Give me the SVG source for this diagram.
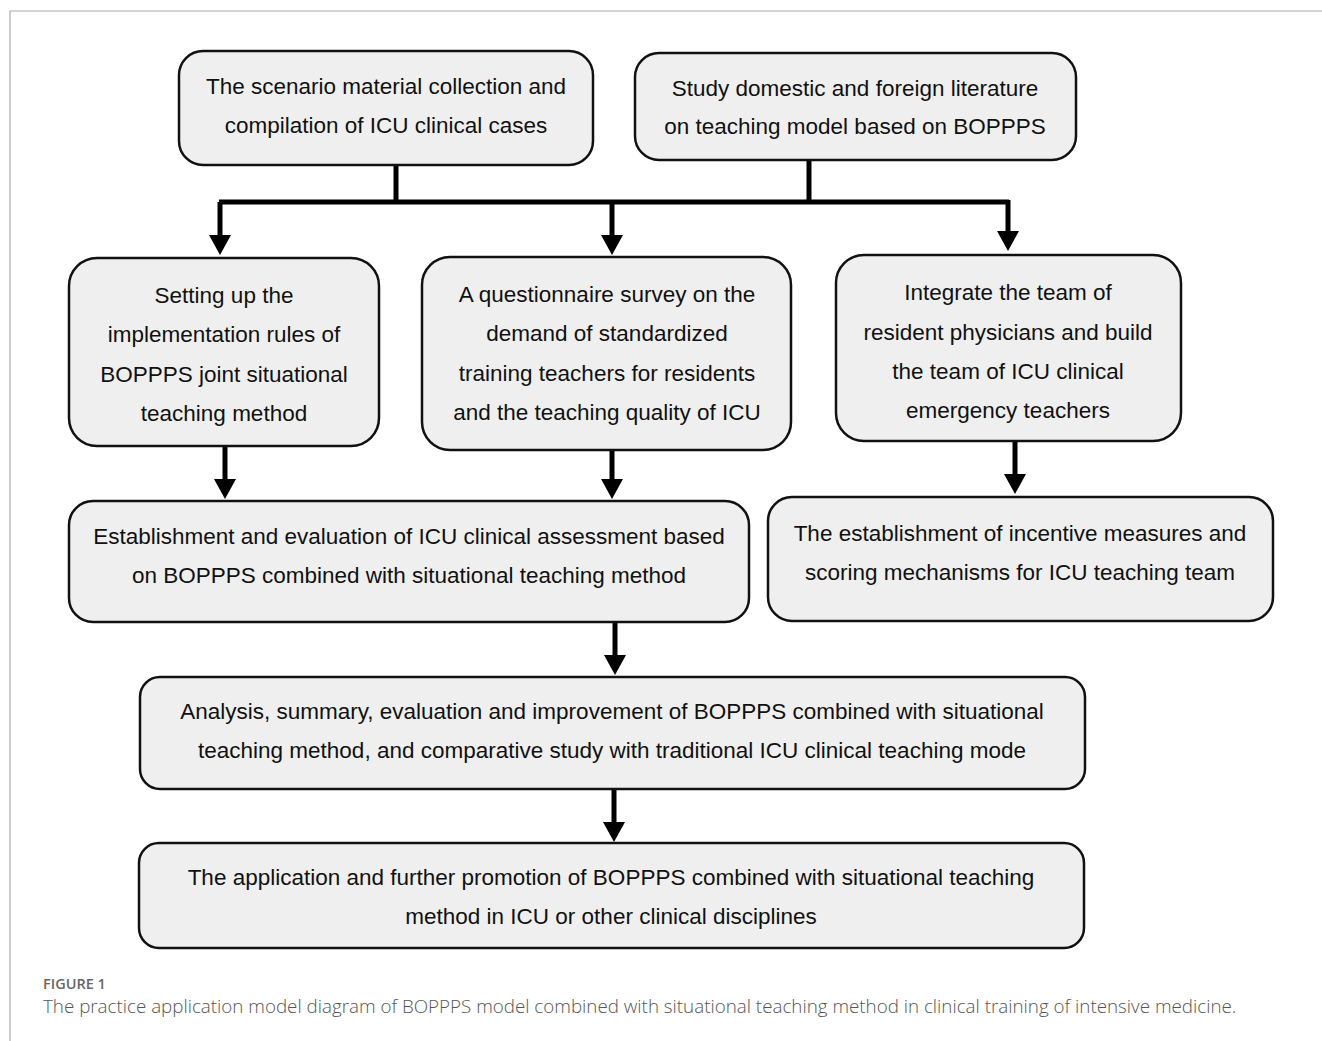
<svg xmlns="http://www.w3.org/2000/svg" width="1322" height="1041" viewBox="0 0 1322 1041">
<defs>
<style>
.box{fill:#efefef;stroke:#111;stroke-width:2.5}
.t{font-family:"Liberation Sans",Arial,sans-serif;font-size:22.5px;fill:#111;text-anchor:middle}
.c{stroke:#000;stroke-width:5;fill:none}
.frame{stroke:#aaa;stroke-width:1.2;fill:none}
.fig{font-family:"Open Sans",sans-serif;font-size:14.5px;fill:#666;font-weight:600}
.cap{font-family:"Open Sans",sans-serif;font-size:18.8px;fill:#555;font-weight:300}
</style>
</defs>
<rect width="1322" height="1041" fill="#fff"/>
<path class="frame" d="M10,1041 V11 H1322"/>
<g id="connectors">
<path class="c" d="M396,165 V202 M809,160 V202 M219,202 H1009"/>
<path d="M220,202 V236" class="c"/><path d="M209,235 L231,235 L220,255 Z"/>
<path d="M612,202 V236" class="c"/><path d="M601,235 L623,235 L612,255 Z"/>
<path d="M1008,200 V232" class="c"/><path d="M997,231 L1019,231 L1008,251 Z"/>
<path d="M225,446 V480" class="c"/><path d="M214,479 L236,479 L225,499 Z"/>
<path d="M612,450 V480" class="c"/><path d="M601,479 L623,479 L612,499 Z"/>
<path d="M1015,441 V475" class="c"/><path d="M1004,474 L1026,474 L1015,494 Z"/>
<path d="M615,622 V656" class="c"/><path d="M604,655 L626,655 L615,675 Z"/>
<path d="M614,789 V823" class="c"/><path d="M603,822 L625,822 L614,842 Z"/>
</g>
<g id="n1"><rect class="box" x="179" y="51" width="414" height="114" rx="24"/>
<text class="t" x="386" y="94">The scenario material collection and</text>
<text class="t" x="386" y="133">compilation of ICU clinical cases</text></g>
<g id="n2"><rect class="box" x="635" y="53" width="441" height="107" rx="24"/>
<text class="t" x="855" y="96">Study domestic and foreign literature</text>
<text class="t" x="855" y="134">on teaching model based on BOPPPS</text></g>
<g id="n3"><rect class="box" x="69" y="258" width="310" height="188" rx="28"/>
<text class="t" x="224" y="303">Setting up the</text>
<text class="t" x="224" y="342">implementation rules of</text>
<text class="t" x="224" y="382">BOPPPS joint situational</text>
<text class="t" x="224" y="421">teaching method</text></g>
<g id="n4"><rect class="box" x="422" y="257" width="369" height="193" rx="28"/>
<text class="t" x="607" y="302">A questionnaire survey on the</text>
<text class="t" x="607" y="341">demand of standardized</text>
<text class="t" x="607" y="381">training teachers for residents</text>
<text class="t" x="607" y="420">and the teaching quality of ICU</text></g>
<g id="n5"><rect class="box" x="836" y="255" width="345" height="186" rx="28"/>
<text class="t" x="1008" y="300">Integrate the team of</text>
<text class="t" x="1008" y="340">resident physicians and build</text>
<text class="t" x="1008" y="379">the team of ICU clinical</text>
<text class="t" x="1008" y="418">emergency teachers</text></g>
<g id="n6"><rect class="box" x="69" y="501" width="680" height="121" rx="24"/>
<text class="t" x="409" y="544">Establishment and evaluation of ICU clinical assessment based</text>
<text class="t" x="409" y="583">on BOPPPS combined with situational teaching method</text></g>
<g id="n7"><rect class="box" x="768" y="497" width="505" height="124" rx="24"/>
<text class="t" x="1020" y="541">The establishment of incentive measures and</text>
<text class="t" x="1020" y="580">scoring mechanisms for ICU teaching team</text></g>
<g id="n8"><rect class="box" x="140" y="677" width="945" height="112" rx="20"/>
<text class="t" x="612" y="719">Analysis, summary, evaluation and improvement of BOPPPS combined with situational</text>
<text class="t" x="612" y="758">teaching method, and comparative study with traditional ICU clinical teaching mode</text></g>
<g id="n9"><rect class="box" x="139" y="843" width="945" height="105" rx="20"/>
<text class="t" x="611" y="885">The application and further promotion of BOPPPS combined with situational teaching</text>
<text class="t" x="611" y="924">method in ICU or other clinical disciplines</text></g>
<text class="fig" x="43" y="989">FIGURE 1</text>
<text class="cap" x="43" y="1013">The practice application model diagram of BOPPPS model combined with situational teaching method in clinical training of intensive medicine.</text>
</svg>
